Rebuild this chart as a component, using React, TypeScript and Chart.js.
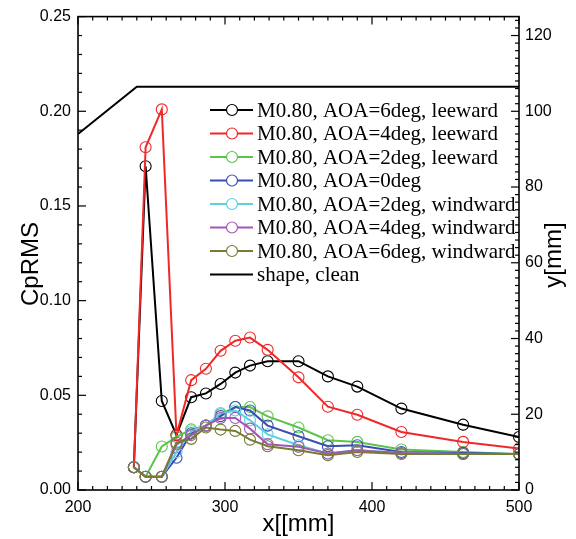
import React, { useEffect, useRef } from 'react';
import { Chart, registerables } from 'chart.js';
Chart.register(...registerables);

// x positions [mm]
const xPos = [238, 246, 257, 267, 277, 287, 297, 307, 317, 329, 350, 370, 390, 420, 462, 500];
// CpRMS series
const aoa6Lee = [0.012, 0.171, 0.047, 0.029, 0.049, 0.051, 0.056, 0.062, 0.0657, 0.068, 0.068, 0.060, 0.0546, 0.043, 0.0345, 0.028];
const aoa4Lee = [0.012, 0.181, 0.201, 0.029, 0.058, 0.064, 0.0735, 0.0788, 0.0805, 0.074, 0.0595, 0.044, 0.0397, 0.0306, 0.0254, 0.0219];
const aoa2Lee = [0.012, 0.007, 0.023, 0.028, 0.032, 0.034, 0.040, 0.0438, 0.0438, 0.0389, 0.033, 0.0263, 0.0254, 0.0214, 0.0201, 0.0189];
const aoa0 = [0.012, 0.007, 0.007, 0.017, 0.030, 0.034, 0.039, 0.0438, 0.042, 0.034, 0.0284, 0.0231, 0.0236, 0.0201, 0.0196, 0.019];
const aoa2Wind = [0.012, 0.007, 0.007, 0.020, 0.031, 0.034, 0.0406, 0.042, 0.0368, 0.0294, 0.0236, 0.0193, 0.021, 0.0195, 0.019, 0.019];
const aoa4Wind = [0.012, 0.007, 0.007, 0.024, 0.029, 0.034, 0.038, 0.038, 0.0324, 0.0242, 0.0228, 0.0193, 0.021, 0.0195, 0.019, 0.019];
const aoa6Wind = [0.012, 0.007, 0.007, 0.025, 0.027, 0.033, 0.0319, 0.0312, 0.0266, 0.0231, 0.021, 0.0184, 0.0201, 0.019, 0.019, 0.019];
// shape (right axis y[mm])
const shapeX = [200, 240, 500];
const shapeY = [94, 106.5, 106.5];

const seriesLabels = [
  'M0.80, AOA=6deg, leeward',
  'M0.80, AOA=4deg, leeward',
  'M0.80, AOA=2deg, leeward',
  'M0.80, AOA=0deg',
  'M0.80, AOA=2deg, windward',
  'M0.80, AOA=4deg, windward',
  'M0.80, AOA=6deg, windward',
];
const shapeLabel = 'shape, clean';
const seriesData = [aoa6Lee, aoa4Lee, aoa2Lee, aoa0, aoa2Wind, aoa4Wind, aoa6Wind];
const seriesColors = ['#000000', '#f02828', '#5cc44a', '#3a4db0', '#5ccfe0', '#a257b8', '#7a7a34'];

const xTitle = 'x[[mm]';
const yTitle = 'CpRMS';
const y1Title = 'y[mm]';

const X_MIN = 200, X_MAX = 500;
const Y_MIN = 0, Y_MAX = 0.25;
const Y1_MIN = 0, Y1_MAX = 125;

const SANS = '"Liberation Sans", Arial, sans-serif';

const framePlugin = {
  id: 'frameTicks',
  afterDatasetsDraw(chart: any) {
    const { ctx, chartArea: a, scales } = chart;
    ctx.save();
    ctx.strokeStyle = '#000';
    ctx.lineWidth = 1.2;
    const seg = (x1: number, y1: number, x2: number, y2: number) => {
      ctx.beginPath(); ctx.moveTo(x1, y1); ctx.lineTo(x2, y2); ctx.stroke();
    };
    for (let k = 0; k <= 30; k++) {
      const px = scales.x.getPixelForValue(X_MIN + k * 10);
      const len = k % 10 === 0 ? 8 : 4;
      seg(px, a.bottom, px, a.bottom - len);
      seg(px, a.top, px, a.top + len);
    }
    for (let k = 0; k <= 25; k++) {
      const py = scales.y.getPixelForValue(k * 0.01);
      const len = k % 5 === 0 ? 8 : 4;
      seg(a.left, py, a.left + len, py);
    }
    for (let k = 0; k <= 62; k++) {
      const py = scales.y1.getPixelForValue(k * 2);
      const len = k % 10 === 0 ? 8 : 4;
      seg(a.right, py, a.right - len, py);
    }
    ctx.lineWidth = 1.6;
    ctx.strokeRect(a.left, a.top, a.right - a.left, a.bottom - a.top);
    ctx.restore();
  },
  afterDraw(chart: any) {
    const { ctx, chartArea: a } = chart;
    ctx.save();
    // axis titles
    ctx.fillStyle = '#000';
    ctx.font = `24px ${SANS}`;
    ctx.textAlign = 'center';
    ctx.textBaseline = 'middle';
    ctx.save();
    ctx.translate(31, 264);
    ctx.rotate(-Math.PI / 2);
    ctx.fillText(yTitle, 0, 0);
    ctx.restore();
    ctx.save();
    ctx.translate(554, 255);
    ctx.rotate(-Math.PI / 2);
    ctx.fillText(y1Title, 0, 0);
    ctx.restore();
    ctx.fillText(xTitle, (a.left + a.right) / 2, 524);

    // legend
    const x0 = 210, x1 = 253, xc = 232, xt = 257, y0 = 110, dy = 23.5;
    ctx.font = '21px "Liberation Serif", serif';
    ctx.textBaseline = 'middle';
    ctx.textAlign = 'left';
    const all = [...seriesLabels, shapeLabel];
    all.forEach((lab, i) => {
      const y = y0 + i * dy;
      const col = i < seriesColors.length ? seriesColors[i] : '#000000';
      ctx.strokeStyle = col;
      ctx.lineWidth = 2;
      ctx.beginPath(); ctx.moveTo(x0, y); ctx.lineTo(x1, y); ctx.stroke();
      if (i < seriesColors.length) {
        ctx.fillStyle = '#ffffff';
        ctx.beginPath(); ctx.arc(xc, y, 5.5, 0, Math.PI * 2); ctx.fill();
        ctx.lineWidth = 1.2;
        ctx.beginPath(); ctx.arc(xc, y, 5.5, 0, Math.PI * 2); ctx.stroke();
      }
      ctx.fillStyle = '#000';
      ctx.fillText(lab, xt, y + 1);
    });
    ctx.restore();
  },
};

export default function App() {
  const ref = useRef<HTMLCanvasElement>(null);
  useEffect(() => {
    if (!ref.current) return;
    const datasets: any[] = seriesData.map((d, i) => ({
      label: seriesLabels[i],
      data: xPos.map((x, j) => ({ x, y: d[j] })),
      borderColor: seriesColors[i],
      backgroundColor: 'rgba(0,0,0,0)',
      pointBorderColor: seriesColors[i],
      pointBackgroundColor: 'rgba(0,0,0,0)',
      pointRadius: 5.5,
      pointBorderWidth: 1.1,
      borderWidth: 2,
      yAxisID: 'y',
      order: 10 - i,
    }));
    datasets.push({
      label: shapeLabel,
      data: shapeX.map((x, j) => ({ x, y: shapeY[j] })),
      borderColor: '#000',
      borderWidth: 2,
      pointRadius: 0,
      yAxisID: 'y1',
      order: 20,
    });
    const tickFont = { family: SANS, size: 16 };
    const chart = new Chart(ref.current, {
      type: 'line',
      data: { datasets },
      options: {
        animation: false,
        responsive: false,
        layout: { padding: { top: 14, left: 0, right: 0, bottom: 0 } },
        plugins: { legend: { display: false }, tooltip: { enabled: false } },
        scales: {
          x: {
            type: 'linear', min: X_MIN, max: X_MAX,
            grid: { display: false, drawTicks: false }, border: { display: false },
            ticks: { stepSize: 100, color: '#000', font: tickFont, padding: 8, maxRotation: 0 },
            afterFit: (s: any) => { s.height = 49; },
          },
          y: {
            type: 'linear', position: 'left', min: Y_MIN, max: Y_MAX,
            grid: { display: false, drawTicks: false }, border: { display: false },
            ticks: { stepSize: 0.05, color: '#000', font: tickFont, padding: 7, callback: (v: any) => Number(v).toFixed(2) },
            afterFit: (s: any) => { s.width = 78; },
          },
          y1: {
            type: 'linear', position: 'right', min: Y1_MIN, max: Y1_MAX,
            grid: { display: false, drawTicks: false }, border: { display: false },
            ticks: { stepSize: 20, color: '#000', font: tickFont, padding: 6, includeBounds: false },
            afterFit: (s: any) => { s.width = 57; },
          },
        },
      } as any,
      plugins: [framePlugin],
    });
    return () => chart.destroy();
  }, []);
  return (
    <div style={{ position: 'absolute', left: 0, top: 0, width: 576, height: 539, background: '#fff' }}>
      <canvas ref={ref} width={576} height={539} />
    </div>
  );
}
